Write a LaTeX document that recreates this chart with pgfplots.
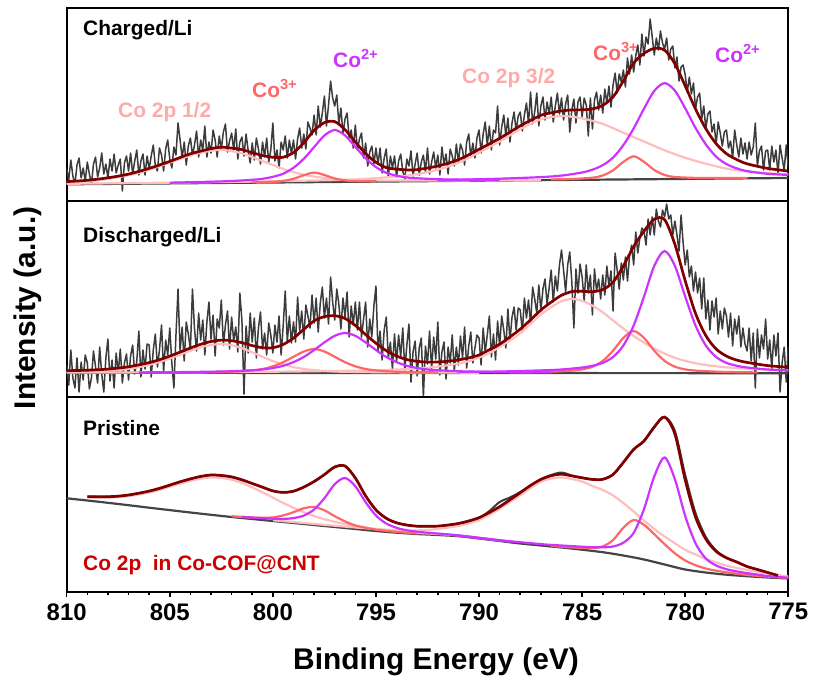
\documentclass[border=0pt]{standalone}
\usepackage{fontspec}
\setmainfont{Liberation Sans}
\usepackage{pgfplots}
\pgfplotsset{compat=1.18}
\definecolor{datagray}{RGB}{60,60,60}
\definecolor{bggray}{RGB}{68,68,68}
\definecolor{envred}{RGB}{128,0,0}
\definecolor{cotwo}{RGB}{204,51,255}
\definecolor{cothree}{RGB}{255,102,102}
\definecolor{satpink}{RGB}{255,190,190}
\definecolor{satlab}{RGB}{255,170,170}
\definecolor{labred}{RGB}{204,0,0}
\newcommand\lab{\fontsize{21}{25}\selectfont\bfseries}
\pgfplotsset{
  panel/.style={anchor=north west, scale only axis, width=721.6bp,
    xmin=775, xmax=810, x dir=reverse, ymin=0,
    ytick=\empty, xtick=\empty, axis line style={line width=2.2bp},
    clip=true},
  dat/.style={datagray, line width=1.5bp, line join=round, no marks, sharp plot},
  bgl/.style={bggray, line width=2.2bp, no marks, smooth},
  comp/.style={line width=2.2bp, no marks, smooth},
  env/.style={envred, line width=2.7bp, no marks, smooth},
}
\begin{document}
\begin{tikzpicture}
\useasboundingbox (0,0) rectangle (817bp,-679bp);
% ================= TOP: Charged/Li =================
\begin{axis}[panel, at={(66.7bp,-8bp)}, height=193bp, ymax=193]
\addplot[dat] coordinates {
(810.0,32)(809.9,21)(809.8,41)(809.7,25)(809.6,17)(809.5,36)(809.4,43)(809.3,23)(809.2,33)(809.1,20)
(809.0,39)(808.9,27)(808.8,17)(808.7,37)(808.6,44)(808.5,24)(808.4,33)(808.3,48)(808.2,27)(808.1,37)
(808.0,23)(807.9,42)(807.8,30)(807.7,47)(807.6,28)(807.5,36)(807.4,42)(807.3,10)(807.2,38)(807.1,45)
(807.0,30)(806.9,48)(806.8,27)(806.7,40)(806.6,51)(806.5,26)(806.4,40)(806.3,47)(806.2,26)(806.1,45)
(806.0,32)(805.9,45)(805.8,56)(805.7,35)(805.6,30)(805.5,53)(805.4,46)(805.3,30)(805.2,52)(805.1,61)
(805.0,42)(804.9,33)(804.8,54)(804.7,46)(804.6,78)(804.5,61)(804.4,43)(804.3,59)(804.2,36)(804.1,55)
(804.0,63)(803.9,46)(803.8,56)(803.7,70)(803.6,44)(803.5,61)(803.4,51)(803.3,75)(803.2,44)(803.1,59)
(803.0,48)(802.9,71)(802.8,61)(802.7,44)(802.6,65)(802.5,52)(802.4,69)(802.3,77)(802.2,49)(802.1,60)
(802.0,68)(801.9,51)(801.8,72)(801.7,42)(801.6,59)(801.5,64)(801.4,45)(801.3,67)(801.2,51)(801.1,38)
(801.0,58)(800.9,41)(800.8,63)(800.7,52)(800.6,37)(800.5,59)(800.4,44)(800.3,63)(800.2,39)(800.1,51)
(800.0,78)(799.9,40)(799.8,51)(799.7,33)(799.6,59)(799.5,51)(799.4,65)(799.3,43)(799.2,61)(799.1,47)
(799.0,61)(798.9,42)(798.8,62)(798.7,73)(798.6,53)(798.5,67)(798.4,52)(798.3,79)(798.2,73)(798.1,66)
(798.0,86)(797.9,66)(797.8,95)(797.7,74)(797.6,88)(797.5,105)(797.4,75)(797.3,96)(797.2,120)(797.1,103)
(797.0,95)(796.9,106)(796.8,77)(796.7,93)(796.6,67)(796.5,82)(796.4,88)(796.3,63)(796.2,71)(796.1,53)
(796.0,76)(795.9,51)(795.8,62)(795.7,68)(795.6,43)(795.5,58)(795.4,35)(795.3,49)(795.2,55)(795.1,37)
(795.0,53)(794.9,37)(794.8,53)(794.7,28)(794.6,43)(794.5,52)(794.4,24)(794.3,45)(794.2,33)(794.1,45)
(794.0,24)(793.9,40)(793.8,47)(793.7,30)(793.6,22)(793.5,42)(793.4,35)(793.3,50)(793.2,25)(793.1,37)
(793.0,48)(792.9,26)(792.8,39)(792.7,46)(792.6,29)(792.5,53)(792.4,27)(792.3,39)(792.2,49)(792.1,33)
(792.0,46)(791.9,26)(791.8,54)(791.7,37)(791.6,47)(791.5,27)(791.4,52)(791.3,45)(791.2,35)(791.1,57)
(791.0,39)(790.9,57)(790.8,51)(790.7,36)(790.6,59)(790.5,67)(790.4,44)(790.3,58)(790.2,43)(790.1,63)
(790.0,71)(789.9,48)(789.8,67)(789.7,79)(789.6,56)(789.5,75)(789.4,51)(789.3,71)(789.2,68)(789.1,95)
(789.0,56)(788.9,74)(788.8,86)(788.7,65)(788.6,83)(788.5,59)(788.4,78)(788.3,89)(788.2,70)(788.1,85)
(788.0,89)(787.9,70)(787.8,86)(787.7,98)(787.6,78)(787.5,109)(787.4,77)(787.3,89)(787.2,108)(787.1,75)
(787.0,95)(786.9,104)(786.8,81)(786.7,99)(786.6,87)(786.5,104)(786.4,79)(786.3,95)(786.2,108)(786.1,87)
(786.0,103)(785.9,81)(785.8,97)(785.7,106)(785.6,69)(785.5,91)(785.4,102)(785.3,78)(785.2,99)(785.1,104)
(785.0,84)(784.9,103)(784.8,96)(784.7,65)(784.6,103)(784.5,72)(784.4,101)(784.3,109)(784.2,91)(784.1,106)
(784.0,88)(783.9,112)(783.8,98)(783.7,115)(783.6,94)(783.5,116)(783.4,128)(783.3,108)(783.2,127)(783.1,119)
(783.0,131)(782.9,114)(782.8,143)(782.7,127)(782.6,146)(782.5,129)(782.4,145)(782.3,156)(782.2,136)(782.1,167)
(782.0,145)(781.9,164)(781.8,157)(781.7,182)(781.6,164)(781.5,146)(781.4,163)(781.3,151)(781.2,170)(781.1,158)
(781.0,152)(780.9,163)(780.8,141)(780.7,152)(780.6,155)(780.5,133)(780.4,144)(780.3,120)(780.2,134)(780.1,136)
(780.0,126)(779.9,109)(779.8,124)(779.7,107)(779.6,118)(779.5,92)(779.4,104)(779.3,108)(779.2,82)(779.1,95)
(779.0,72)(778.9,87)(778.8,90)(778.7,69)(778.6,77)(778.5,57)(778.4,79)(778.3,68)(778.2,55)(778.1,69)
(778.0,71)(777.9,53)(777.8,60)(777.7,43)(777.6,71)(777.5,56)(777.4,44)(777.3,63)(777.2,47)(777.1,58)
(777.0,42)(776.9,59)(776.8,46)(776.7,54)(776.6,78)(776.5,35)(776.4,50)(776.3,55)(776.2,31)(776.1,50)
(776.0,51)(775.9,31)(775.8,55)(775.7,39)(775.6,51)(775.5,27)(775.4,56)(775.3,43)(775.2,31)(775.1,56)
(775.0,34)};
\addplot[bgl] coordinates {(810,16.7)(775,23.0)};
\addplot[comp, satpink] coordinates {(810,18.5)(808.5,20.8)(807.5,23.8)(806.5,28.2)(805.5,34.7)(804.5,42.0)(803.5,48.3)(802.5,51.1)(801.5,47.6)(800.5,39.9)(799.5,32.1)(798.5,26.2)(797.5,23.1)(796.5,21.2)(795.5,20.7)(793.5,20.5)(790.5,20.6)(787,21.0)};
\addplot[comp, satpink] coordinates {(810,17.2)(802,19.1)(798,20.5)(796,21.6)(794,24.4)(793,26.8)(792,31.4)(791,38.3)(790,48.5)(789,59.5)(788,71.9)(787,81.6)(786,85.0)(785,82.6)(784,77.1)(783,68.3)(782,59.5)(781,50.7)(780,43.2)(779,37.3)(778,32.4)(777,29.5)(776,27.9)(775,26.7)};
\addplot[comp, cothree] coordinates {(801,18.6)(800,19.2)(799.5,20.1)(799,22.2)(798.5,25.8)(798,28.4)(797.5,26.0)(797,22.5)(796.5,20.6)(796,19.9)(795,19.7)};
\addplot[comp, cothree] coordinates {(786.5,21.6)(785.5,22.0)(784.5,23.3)(784,25.5)(783.5,30.7)(783,39.1)(782.5,44.7)(782,39.2)(781.5,31.0)(781,26.0)(780.5,24.0)(779.5,23.1)(778.5,23.0)(777,22.9)};
\addplot[comp, cotwo] coordinates {(805,18.3)(803,19.3)(802,20.0)(801,21.2)(800.5,22.2)(800,24.2)(799.5,27.3)(799,33.2)(798.5,42.2)(798,53.9)(797.5,65.5)(797,71.0)(796.5,65.6)(796,54.2)(795.5,42.7)(795,33.9)(794.5,28.2)(794,25.3)(793.5,23.5)(793,22.7)(792,21.8)(791,21.4)(789,21.2)};
\addplot[comp, cotwo] coordinates {(792,20.6)(791,21.3)(789,22.3)(787,23.9)(786,25.4)(785,28.5)(784.5,31.3)(784,35.8)(783.5,43.4)(783,55.9)(782.5,72.6)(782,92.3)(781.5,110.1)(781,117.9)(780.5,110.3)(780,92.7)(779.5,73.1)(779,56.6)(778.5,44.3)(778,36.9)(777.5,32.6)(777,29.9)(776,27.2)(775,26.1)};
\addplot[env] coordinates {(810,19.4)(809,20.7)(808,23.2)(807,26.9)(806,32.6)(805,39.6)(804,47.2)(803,52.3)(802.5,53.8)(802,52.9)(801.5,51.4)(801,48.3)(800.5,45.5)(800,43.7)(799.5,43.8)(799,48.4)(798.5,58.2)(798,70.6)(797.5,78.4)(797,79.4)(796.5,71.3)(796,59.0)(795.5,47.4)(795,38.7)(794.5,33.4)(794,31.9)(793.5,31.1)(793,31.4)(792,35.0)(791,41.3)(790,51.7)(789,62.7)(788,75.2)(787,85.7)(786.5,88.2)(786,90.1)(785.5,91.0)(785,91.2)(784.5,92.1)(784,95.6)(783.5,104.1)(783,120.1)(782.5,137.9)(782,147.6)(781.5,152.6)(781,150.8)(780.5,137.2)(780,115.1)(779.5,92.0)(779,72.3)(778.5,57.3)(778,47.3)(777.5,41.4)(777,37.2)(776,32.6)(775,30.0)};
\end{axis}
% ================= MIDDLE: Discharged/Li =================
\begin{axis}[panel, at={(66.7bp,-201bp)}, height=196bp, ymax=196]
\addplot[dat] coordinates {
(810.0,32)(809.9,12)(809.8,47)(809.7,19)(809.6,9)(809.5,39)(809.4,5)(809.3,35)(809.2,17)(809.1,42)
(809.0,34)(808.9,8)(808.8,19)(808.7,46)(808.6,30)(808.5,14)(808.4,50)(808.3,23)(808.2,5)(808.1,39)
(808.0,58)(807.9,16)(807.8,37)(807.7,9)(807.6,44)(807.5,24)(807.4,48)(807.3,14)(807.2,34)(807.1,43)
(807.0,17)(806.9,41)(806.8,52)(806.7,23)(806.6,36)(806.5,66)(806.4,20)(806.3,47)(806.2,28)(806.1,53)
(806.0,52)(805.9,20)(805.8,47)(805.7,63)(805.6,30)(805.5,47)(805.4,72)(805.3,25)(805.2,57)(805.1,42)
(805.0,69)(804.9,34)(804.8,9)(804.7,62)(804.6,108)(804.5,46)(804.4,70)(804.3,36)(804.2,75)(804.1,63)
(804.0,47)(803.9,108)(803.8,68)(803.7,46)(803.6,84)(803.5,57)(803.4,77)(803.3,42)(803.2,75)(803.1,95)
(803.0,58)(802.9,82)(802.8,41)(802.7,78)(802.6,69)(802.5,97)(802.4,52)(802.3,72)(802.2,86)(802.1,48)
(802.0,80)(801.9,56)(801.8,70)(801.7,45)(801.6,104)(801.5,76)(801.4,3)(801.3,71)(801.2,44)(801.1,84)
(801.0,55)(800.9,79)(800.8,39)(800.7,69)(800.6,85)(800.5,48)(800.4,64)(800.3,42)(800.2,74)(800.1,62)
(800.0,44)(799.9,72)(799.8,55)(799.7,81)(799.6,42)(799.5,71)(799.4,106)(799.3,55)(799.2,81)(799.1,54)
(799.0,75)(798.9,55)(798.8,100)(798.7,66)(798.6,86)(798.5,58)(798.4,92)(798.3,81)(798.2,69)(798.1,102)
(798.0,74)(797.9,99)(797.8,65)(797.7,94)(797.6,110)(797.5,79)(797.4,99)(797.3,73)(797.2,120)(797.1,95)
(797.0,77)(796.9,108)(796.8,93)(796.7,68)(796.6,99)(796.5,80)(796.4,105)(796.3,60)(796.2,91)(796.1,72)
(796.0,95)(795.9,67)(795.8,95)(795.7,60)(795.6,78)(795.5,95)(795.4,50)(795.3,78)(795.2,60)(795.1,91)
(795.0,111)(794.9,45)(794.8,66)(794.7,37)(794.6,67)(794.5,80)(794.4,39)(794.3,55)(794.2,28)(794.1,63)
(794.0,35)(793.9,62)(793.8,40)(793.7,69)(793.6,27)(793.5,52)(793.4,73)(793.3,15)(793.2,45)(793.1,56)
(793.0,21)(792.9,49)(792.8,59)(792.7,0)(792.6,51)(792.5,33)(792.4,66)(792.3,27)(792.2,60)(792.1,38)
(792.0,75)(791.9,22)(791.8,45)(791.7,55)(791.6,18)(791.5,50)(791.4,34)(791.3,62)(791.2,26)(791.1,50)
(791.0,32)(790.9,61)(790.8,39)(790.7,70)(790.6,29)(790.5,51)(790.4,65)(790.3,34)(790.2,49)(790.1,62)
(790.0,59)(789.9,32)(789.8,69)(789.7,45)(789.6,62)(789.5,81)(789.4,40)(789.3,63)(789.2,37)(789.1,76)
(789.0,51)(788.9,81)(788.8,67)(788.7,49)(788.6,88)(788.5,56)(788.4,80)(788.3,90)(788.2,67)(788.1,89)
(788.0,87)(787.9,65)(787.8,99)(787.7,79)(787.6,97)(787.5,73)(787.4,110)(787.3,98)(787.2,84)(787.1,112)
(787.0,86)(786.9,108)(786.8,118)(786.7,93)(786.6,109)(786.5,127)(786.4,95)(786.3,121)(786.2,106)(786.1,132)
(786.0,147)(785.9,127)(785.8,105)(785.7,132)(785.6,145)(785.5,115)(785.4,69)(785.3,128)(785.2,104)(785.1,133)
(785.0,120)(784.9,96)(784.8,132)(784.7,104)(784.6,122)(784.5,82)(784.4,128)(784.3,106)(784.2,118)(784.1,98)
(784.0,122)(783.9,102)(783.8,131)(783.7,111)(783.6,126)(783.5,86)(783.4,144)(783.3,127)(783.2,108)(783.1,134)
(783.0,117)(782.9,140)(782.8,116)(782.7,141)(782.6,152)(782.5,132)(782.4,165)(782.3,144)(782.2,159)(782.1,169)
(782.0,166)(781.9,152)(781.8,178)(781.7,162)(781.6,180)(781.5,162)(781.4,188)(781.3,176)(781.2,170)(781.1,187)
(781.0,180)(780.9,193)(780.8,178)(780.7,182)(780.6,162)(780.5,176)(780.4,162)(780.3,146)(780.2,182)(780.1,154)
(780.0,132)(779.9,147)(779.8,120)(779.7,131)(779.6,106)(779.5,125)(779.4,104)(779.3,119)(779.2,88)(779.1,119)
(779.0,78)(778.9,97)(778.8,67)(778.7,96)(778.6,80)(778.5,99)(778.4,63)(778.3,86)(778.2,68)(778.1,89)
(778.0,81)(777.9,60)(777.8,84)(777.7,51)(777.6,78)(777.5,63)(777.4,81)(777.3,50)(777.2,69)(777.1,53)
(777.0,46)(776.9,69)(776.8,36)(776.7,64)(776.6,9)(776.5,68)(776.4,39)(776.3,62)(776.2,48)(776.1,78)
(776.0,38)(775.9,57)(775.8,28)(775.7,62)(775.6,41)(775.5,64)(775.4,5)(775.3,34)(775.2,50)(775.1,15)
(775.0,50)};
\addplot[bgl] coordinates {(810,24.2)(775,23.8)};
\addplot[comp, satpink] coordinates {(810,24.9)(808.5,25.7)(807.5,27.0)(807,28.2)(806.5,29.9)(806,32.1)(805.5,35.0)(805,38.5)(804.5,42.3)(804,46.2)(803.5,49.7)(803,52.0)(802.5,53.0)(802,51.8)(801.5,48.9)(801,44.6)(800.5,40.2)(800,35.9)(799.5,32.7)(799,29.9)(798.5,28.1)(798,26.9)(797.5,26.0)(797,25.5)(796.5,25.2)(795,24.8)(793,24.5)(790,24.3)};
\addplot[comp, satpink] coordinates {(810,24.5)(805,24.7)(800.5,25.2)(797.5,25.9)(795.5,26.5)(793.5,27.9)(792.5,29.3)(791.5,31.8)(790.5,35.8)(789.5,44.0)(788.5,56.6)(788,64.0)(787.5,73.2)(787,82.5)(786.5,89.9)(786,95.8)(785.5,98.0)(785,96.2)(784.5,91.3)(784,84.7)(783.5,76.5)(783,68.4)(782.5,61.0)(781.5,48.4)(780.5,39.2)(779.5,33.7)(778.5,30.7)(777.5,28.8)(776.5,27.8)(775,26.8)};
\addplot[comp, cothree] coordinates {(804,24.6)(802,25.3)(801,26.6)(800.5,28.0)(800,30.7)(799.5,34.8)(799,40.2)(798.5,45.5)(798,48.0)(797.5,45.5)(797,40.2)(796.5,34.8)(796,30.7)(795.5,28.0)(795,26.6)(794,25.3)(792,24.6)};
\addplot[comp, cothree] coordinates {(788.5,24.6)(787,25.0)(786,25.8)(785.5,26.4)(785,27.6)(784.5,30.3)(784,36.1)(783.5,46.3)(783,59.1)(782.5,66.0)(782,59.1)(781.5,46.3)(781,36.1)(780.5,30.3)(780,27.6)(779.5,26.4)(779,25.8)(778,25.0)(776.5,24.6)};
\addplot[comp, cotwo] coordinates {(806.5,24.6)(804.5,24.9)(802.5,25.5)(801.5,26.2)(800.5,27.5)(800,29.0)(799.5,31.2)(799,34.9)(798.5,40.0)(798,47.0)(797.5,54.6)(797,61.2)(796.5,64.0)(796,61.2)(795.5,54.6)(795,47.0)(794.5,40.0)(794,34.9)(793.5,31.2)(793,29.0)(792.5,27.5)(791.5,26.2)(790.5,25.5)(788.5,24.9)(786.5,24.6)};
\addplot[comp, cotwo] coordinates {(791,25.0)(789,25.5)(787,26.6)(786,27.5)(785,29.5)(784.5,31.2)(784,34.1)(783.5,40.0)(783,51.5)(782.5,71.5)(782,100.4)(781.5,131.1)(781,146.0)(780.5,131.1)(780,100.4)(779.5,71.5)(779,51.5)(778.5,40.0)(778,34.1)(777.5,31.2)(777,29.5)(776,27.5)(775,26.6)};
\addplot[env] coordinates {(810,26.3)(809,26.8)(808,27.9)(807,30.2)(806,34.4)(805.5,37.3)(805,40.9)(804.5,44.9)(804,49.0)(803.5,52.7)(803,55.5)(802.5,56.9)(802,56.3)(801.5,54.3)(801,51.4)(800.5,49.3)(800,49.3)(799.5,52.5)(799,58.9)(798.5,67.6)(798,76.1)(797.5,80.4)(797,81.3)(796.5,78.5)(796,71.6)(795.5,62.4)(795,53.8)(794.5,46.3)(794,41.0)(793.5,37.4)(793,35.7)(792.5,34.9)(792,35.0)(791.5,35.8)(791,37.1)(790.5,39.1)(790,42.0)(789.5,47.3)(789,52.8)(788.5,60.1)(788,67.9)(787.5,77.2)(787,86.9)(786.5,94.9)(786,101.7)(785.5,105.4)(785,105.8)(784.5,105.3)(784,107.4)(783.5,114.8)(783,131.0)(782.5,150.5)(782,165.8)(781.5,177.8)(781,177.3)(780.5,152.6)(780,116.2)(779.5,83.6)(779,61.4)(778.5,48.0)(778,40.9)(777.5,36.9)(777,34.6)(776,31.4)(775,29.8)};
\end{axis}
% ================= BOTTOM: Pristine =================
\begin{axis}[panel, at={(66.7bp,-397bp)}, height=195bp, ymax=195,
  xtick={775,780,...,810}, minor x tick num=4, xtick pos=bottom,
  tick align=outside, major tick length=5bp, minor tick length=3bp,
  tick style={line width=1.6bp, black},
  xticklabel style={font=\fontsize{24}{24}\selectfont\bfseries, yshift=-3bp},
  /pgf/number format/assume math mode=true]
\addplot[dat, smooth, line width=2bp] coordinates {(809,95.4)(808,95.3)(807,97.0)(806,100.9)(805,106.9)(804,113.1)(803,117.0)(802.5,116.5)(802,115.1)(801,108.5)(800,101.1)(799.5,99.6)(799,100.8)(798.5,104.9)(798,110.5)(797.5,117.4)(797,125.0)(796.5,126.0)(796,114.0)(795.5,96.1)(795,82.1)(794.5,73.7)(794,69.2)(793,65.8)(792,65.9)(791,68.5)(790,74.3)(789.5,81.0)(789,90.0)(788.5,94.5)(788,100.0)(787,112.6)(786.5,117.0)(786,119.5)(785.5,116.5)(785,114.2)(784.5,112.6)(784,112.7)(783.5,117.5)(783,129.6)(782.5,142.6)(782,151)(781.5,165)(781,175)(780.5,161)(780,117)(779.5,79)(779,55)(778.5,41.5)(778,34.2)(777.5,30.0)(777,25.5)(776.5,22.5)(776,19.5)(775.5,16.5)};
\addplot[bgl] coordinates {(810,93.7)(809,91.5)(808,89.2)(807,86.8)(806,84.3)(805,81.9)(804,79.5)(803,77.2)(802,75.0)(801,73.0)(800,71.0)(799,69.0)(798,67.0)(797,65.0)(796,63.0)(795,61.0)(794,59.3)(793,58.0)(792,57.0)(791,55.8)(790,53.5)(789,51.0)(788,48.5)(787,46.5)(786,44.5)(785,42.3)(784,39.8)(783,36.5)(782,32.5)(781,27.5)(780,22.5)(779,19.5)(778,17.3)(777,15.8)(776,14.5)(775,13.5)};
\addplot[comp, satpink] coordinates {(809,94.6)(808,94.4)(807,95.8)(806,99.5)(805.5,102.1)(805,105.3)(804.5,108.4)(804,111.1)(803.5,113.4)(803,114.5)(802.5,114.1)(802,112.3)(801.5,109.0)(801,104.6)(800.5,99.7)(800,94.4)(799.5,89.0)(799,84.2)(798.5,79.8)(798,76.0)(797.5,72.8)(797,70.2)(796.5,68.0)(796,66.1)(795,63.0)(794,60.7)(793,59.1)(791,56.6)(789,51.6)};
\addplot[comp, satpink] coordinates {(800,71.8)(796,64.5)(794,61.8)(793,61.5)(792,63.0)(791,66.1)(790.5,68.7)(790,72.1)(789.5,77.3)(789,83.2)(788.5,90.0)(788,96.8)(787.5,104.0)(787,110.2)(786.5,113.5)(786,114.5)(785.5,113.0)(785,110.5)(784.5,106.0)(784,102.0)(783.5,96.5)(783,89.0)(782.5,80.5)(782,71.5)(781.5,63.0)(781,55.5)(780.5,48.7)(780,42.2)(779.5,37.5)(779,33.1)(778,26.4)(777,22.1)(776,18.5)(775,15.5)};
\addplot[comp, cothree] coordinates {(802,75.8)(801,74.4)(800.5,74.2)(800,74.6)(799.5,76.6)(799,79.8)(798.5,83.7)(798,85.0)(797.5,81.7)(797,75.8)(796.5,70.6)(796,66.6)(795.5,64.2)(795,62.4)(794,60.1)(793,58.5)};
\addplot[comp, cothree] coordinates {(786.5,46.2)(785.5,44.6)(784.5,44.0)(784,45.6)(783.5,51.9)(783,64.3)(782.5,72.0)(782,67.2)(781.5,57.8)(781,47.8)(780.5,38.7)(780,31.5)(779.5,26.8)(779,23.5)(778.5,21.3)(777.5,18.3)(776.5,16.1)(775,14.0)};
\addplot[comp, cotwo] coordinates {(801.5,75.2)(800.5,73.8)(800,73.3)(799.5,73.1)(799,73.9)(798.5,76.4)(798,82.5)(797.5,93.8)(797,107.8)(796.5,114.0)(796,105.8)(795.5,89.8)(795,76.5)(794.5,68.5)(794,64.2)(793.5,61.7)(793,60.3)(792.5,59.3)(791.5,57.6)(790.5,55.5)(788.5,50.3)};
\addplot[comp, cotwo] coordinates {(791,56.4)(789,51.8)(787,47.9)(786,46.5)(785,45.3)(784.5,44.8)(784,44.7)(783.5,45.5)(783,49.3)(782.5,59.1)(782,82.8)(781.5,115.6)(781,134.5)(780.5,112.7)(780,76.0)(779.5,48.7)(779,33.5)(778.5,26.5)(778,22.8)(777.5,20.6)(777,18.9)(776,16.0)(775,14.2)};
\addplot[env] coordinates {(809,95.4)(808.5,95.3)(808,95.3)(807.5,95.8)(807,97.0)(806.5,98.8)(806,100.9)(805.5,103.6)(805,106.9)(804.5,110.2)(804,113.1)(803.5,115.6)(803,117.0)(802.5,116.5)(802,115.1)(801.5,112.2)(801,108.5)(800.5,104.8)(800,101.1)(799.5,99.6)(799,100.8)(798.5,104.9)(798,110.5)(797.5,117.4)(797,125.0)(796.5,126.0)(796,114.0)(795.5,96.1)(795,82.1)(794.5,73.7)(794,69.2)(793.5,66.9)(793,65.8)(792.5,65.8)(792,65.9)(791.5,67.0)(791,68.5)(790.5,71.0)(790,74.3)(789.5,79.5)(789,85.3)(788.5,92.2)(788,99.3)(787.5,106.6)(787,112.6)(786.5,116.3)(786,117.8)(785.5,116.1)(785,114.2)(784.5,112.6)(784,112.7)(783.5,117.5)(783,129.6)(782.5,142.6)(782,151)(781.5,165)(781,175)(780.5,158)(780,112)(779.5,75)(779,53)(778.5,40.6)(778,34.2)(777.5,30.0)(777,25.5)(776.5,22.5)(776,19.5)(775.5,16.5)};
\end{axis}
% ================= texts =================
\node[anchor=base west, inner sep=0] at (83bp,-35bp) {\lab Charged/Li};
\node[anchor=base west, inner sep=0] at (83bp,-242bp) {\lab Discharged/Li};
\node[anchor=base west, inner sep=0] at (83bp,-435bp) {\lab Pristine};
\node[anchor=base west, inner sep=0, text=labred] at (83bp,-570bp) {\lab Co 2p\ \ in Co-COF@CNT};
\node[anchor=base west, inner sep=0, text=satlab] at (118bp,-117bp) {\lab Co 2p 1/2};
\node[anchor=base west, inner sep=0, text=cothree] at (252bp,-97bp) {\lab Co\textsuperscript{3+}};
\node[anchor=base west, inner sep=0, text=cotwo] at (333bp,-67bp) {\lab Co\textsuperscript{2+}};
\node[anchor=base west, inner sep=0, text=satlab] at (462bp,-83bp) {\lab Co 2p 3/2};
\node[anchor=base west, inner sep=0, text=cothree] at (593bp,-60bp) {\lab Co\textsuperscript{3+}};
\node[anchor=base west, inner sep=0, text=cotwo] at (715bp,-62bp) {\lab Co\textsuperscript{2+}};
\node[anchor=base, inner sep=0] at (436bp,-669bp) {\fontsize{30}{30}\selectfont\bfseries Binding Energy (eV)};
\node[rotate=90, inner sep=0] at (27.5bp,-308bp) {\fontsize{30}{30}\selectfont\bfseries Intensity (a.u.)};
\end{tikzpicture}
\end{document}
